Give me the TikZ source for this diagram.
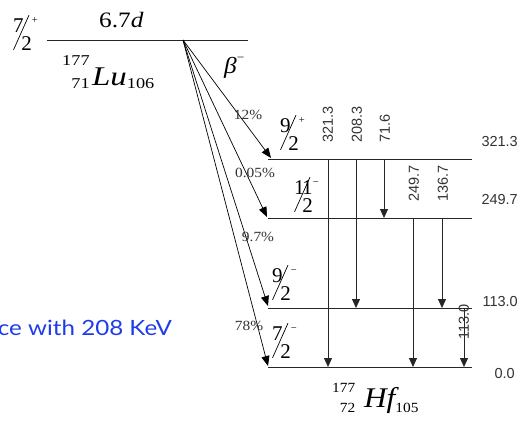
\documentclass[tikz,border=0pt]{standalone}
\usepackage{fontspec}
\usepackage{graphicx}
\setmainfont{Liberation Serif}
\newfontfamily\arialf{Liberation Sans}
\newfontfamily\gillf{Lato}
\usetikzlibrary{arrows.meta,calc}
\definecolor{noteblue}{RGB}{30,60,235}

\newlength\spw
\newsavebox\spnum
\newcommand{\spinfrac}[3]{\mbox{\fontsize{21}{21}\selectfont
 \sbox\spnum{#1}\setlength\spw{\wd\spnum}%
 \raisebox{17.5pt}{\usebox\spnum}\kern-\spw
 \rotatebox{66}{\rule{38pt}{0.7pt}}\kern-8pt
 #2\raisebox{27pt}{\fontsize{10.5}{10.5}\selectfont #3}}}

\newlength\nucw
\newsavebox\nucA
\newsavebox\nucZ
% #1 main size, #2 script size, #3 raise, #4 lower, #5 A, #6 Z, #7 symbol, #8 N, #9 gap
\newcommand{\nuclide}[9]{\mbox{\fontsize{#2}{#2}\selectfont
 \sbox\nucA{#5}\sbox\nucZ{#6}%
 \ifdim\wd\nucA>\wd\nucZ \setlength\nucw{\wd\nucA}\else\setlength\nucw{\wd\nucZ}\fi
 \rlap{\hbox to \nucw{\hss\raisebox{#3}{\usebox\nucA}}}%
 \hbox to \nucw{\hss\raisebox{-#4}{\usebox\nucZ}}%
 \kern#9{\fontsize{#1}{#1}\selectfont\itshape #7}%
 \raisebox{-#4}{#8}}}

\begin{document}
\begin{tikzpicture}[x=1pt,y=-1pt,
 lev/.style={line width=1pt, black!85},
 gam/.style={line width=0.8pt, black!85, -{Triangle[width=8pt,length=9pt]}},
 bet/.style={line width=0.7pt, black, -{Triangle[width=8pt,length=10pt]}},
 glab/.style={font=\arialf\fontsize{14.5}{14.5}\selectfont, text=black!80, rotate=90, anchor=west, inner sep=0pt},
 elab/.style={font=\arialf\fontsize{14.5}{14.5}\selectfont, text=black!80, anchor=east, inner sep=0pt},
 pct/.style={font=\fontsize{14}{14}\selectfont, text=black!80, inner sep=0pt},
 spin/.style={anchor=base west, inner sep=0pt}]
\fill[white] (0,0) rectangle (525,421);
\useasboundingbox (0,0) rectangle (525,421);
\clip (0,0) rectangle (525,421);

% parent level
\coordinate (Pl) at (47,40);
\coordinate (Pr) at (248,40);
\coordinate (O) at (183,40);
\draw[lev] (Pl) -- (Pr);
\node[font=\fontsize{22}{22}\selectfont, anchor=base west, inner sep=0pt] (half) at (99,27) {\scalebox{1.15}[1]{6.7\textit{d}}};
\node[spin] (sp0) at (13,50) {\spinfrac{7}{2}{+}};
\node[anchor=base west, inner sep=0pt] (lu) at (62,85) {\scalebox{1.22}[1]{\nuclide{27}{15}{20pt}{3pt}{177}{71}{Lu}{106}{2pt}}};
\node[anchor=base west, inner sep=0pt, font=\fontsize{23}{23}\selectfont] (beta) at (224,73) {\scalebox{1.1}[1]{\textit{β}\raisebox{12pt}{\fontsize{12}{12}\selectfont −}}};

% daughter levels
\coordinate (L3l) at (268,159); \coordinate (L3r) at (472,159);
\coordinate (L2l) at (268,218); \coordinate (L2r) at (472,218);
\coordinate (L1l) at (268,308); \coordinate (L1r) at (472,308);
\coordinate (L0l) at (268,367); \coordinate (L0r) at (472,367);
\foreach \l in {L3,L2,L1,L0} \draw[lev] (\l l) -- (\l r);

% beta branches
\draw[bet] (O) -- ($(L3l)+(3,-1)$);
\draw[bet] (O) -- ($(L2l)+(-1,-1)$);
\draw[bet] (O) -- ($(L1l)+(0,-2)$);
\draw[bet] (O) -- ($(L0l)+(0,-1)$);
\node[pct] (p1) at (248,115) {\scalebox{1.1}[1]{12\%}};
\node[pct] (p2) at (255,173) {\scalebox{1.1}[1]{0.05\%}};
\node[pct] (p3) at (258,237) {\scalebox{1.1}[1]{9.7\%}};
\node[pct] (p4) at (249,326) {\scalebox{1.1}[1]{78\%}};

% spins
\node[spin] (s3) at (280,150) {\spinfrac{9}{2}{+}};
\node[spin] (s2) at (294,212) {\spinfrac{1\kern-2.5pt1}{2}{−}};
\node[spin] (s1) at (272,300) {\spinfrac{9}{2}{−}};
\node[spin] (s0) at (272,358) {\spinfrac{7}{2}{−}};

% gamma transitions
\coordinate (g1) at (328,0);
\coordinate (g2) at (356,0);
\coordinate (g3) at (384,0);
\coordinate (g4) at (413,0);
\coordinate (g5) at (442,0);
\coordinate (g6) at (464,0);
\draw[gam] (L3l -| g1) -- (L0l -| g1);
\draw[gam] (L3l -| g2) -- (L1l -| g2);
\draw[gam] (L3l -| g3) -- (L2l -| g3);
\draw[gam] (L2l -| g4) -- (L0l -| g4);
\draw[gam] (L2l -| g5) -- (L1l -| g5);
\draw[gam] (L1l -| g6) -- (L0l -| g6);
\node[glab] (t1) at (328,143) {321.3};
\node[glab] (t2) at (357,143) {208.3};
\node[glab] (t3) at (385,143) {71.6};
\node[glab] (t4) at (414,202) {249.7};
\node[glab] (t5) at (443,202) {136.7};
\node[glab] (t6) at (464,340) {113.0};

% energies
\node[elab] (e3) at (518,142) {321.3};
\node[elab] (e2) at (518,200) {249.7};
\node[elab] (e1) at (518,302) {113.0};
\node[elab] (e0) at (515,374) {0.0};

\node[anchor=base west, inner sep=0pt] (hf) at (332,407) {\scalebox{1.1}[1]{\nuclide{28.5}{14}{15pt}{5.5pt}{177}{72}{Hf}{105}{8pt}}};

% note
\node[font=\gillf\fontsize{21}{21}\selectfont, text=noteblue, anchor=base east, inner sep=0pt] (note) at (172,335) {\scalebox{1.15}[1]{ce with 208 KeV}};
\end{tikzpicture}
\end{document}
